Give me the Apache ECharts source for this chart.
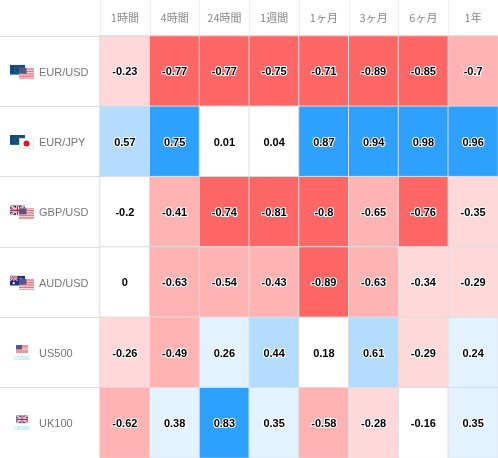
<!DOCTYPE html>
<html><head><meta charset="utf-8">
<style>html,body{margin:0;padding:0;background:#fff}#c{width:498px;height:458px}</style>
<script src="https://cdn.jsdelivr.net/npm/echarts@6/dist/echarts.min.js"></script>
</head><body><div id="c"></div>
<script>
const periods = ['1時間','4時間','24時間','1週間','1ヶ月','3ヶ月','6ヶ月','1年'];
const instruments = ['EUR/USD','EUR/JPY','GBP/USD','AUD/USD','US500','UK100'];
const eurUsd = [-0.23,-0.77,-0.77,-0.75,-0.71,-0.89,-0.85,-0.7];
const eurJpy = [0.57,0.75,0.01,0.04,0.87,0.94,0.98,0.96];
const gbpUsd = [-0.2,-0.41,-0.74,-0.81,-0.8,-0.65,-0.76,-0.35];
const audUsd = [0,-0.63,-0.54,-0.43,-0.89,-0.63,-0.34,-0.29];
const us500 = [-0.26,-0.49,0.26,0.44,0.18,0.61,-0.29,0.24];
const uk100 = [-0.62,0.38,0.83,0.35,-0.58,-0.28,-0.16,0.35];
const rows = [eurUsd,eurJpy,gbpUsd,audUsd,us500,uk100];

const svg = s => 'data:image/svg+xml;charset=utf-8,' + encodeURIComponent(s);
const wrap = (w,h,b) => `<svg xmlns="http://www.w3.org/2000/svg" width="${w}" height="${h}" viewBox="0 0 ${w} ${h}">${b}</svg>`;
const usStripes = [0,3.4,6.8,10.2,13.6,17,20.4].map(y=>`<rect y="${y}" width="30" height="1.7" fill="#e0606a"/>`).join('');
const US = svg(wrap(30,22,`<rect width="30" height="22" fill="#fbeaea"/>${usStripes}<rect width="15" height="12" fill="#55558a"/>`));
const EU = svg(wrap(30,20,`<rect width="30" height="20" fill="#0f4e7e"/><circle cx="15" cy="10" r="5.5" fill="none" stroke="#6f8f3c" stroke-width="1.4" stroke-dasharray="1.4 1.6"/><rect y="19" width="30" height="1" fill="#3f88a8"/>`));
const JP = svg(wrap(30,22,`<rect x=".5" y=".5" width="29" height="21" fill="#fff" stroke="#d8d8d8"/><circle cx="15" cy="11" r="6" fill="#e8101c"/>`));
const UKb = `<rect width="30" height="20" fill="#2b3a78"/><path d="M0 0L30 20M30 0L0 20" stroke="#fff" stroke-width="4"/><path d="M0 0L30 20M30 0L0 20" stroke="#d8405a" stroke-width="1.4"/><path d="M15 0V20M0 10H30" stroke="#fff" stroke-width="6"/><path d="M15 0V20M0 10H30" stroke="#d8203a" stroke-width="3"/>`;
const UK = svg(wrap(30,20,UKb));
const AU = svg(wrap(30,20,`<rect width="30" height="20" fill="#1c2f86"/><g transform="scale(.5)">${UKb}</g><circle cx="7.5" cy="15" r="2.2" fill="#fff"/><circle cx="22" cy="5" r="1.2" fill="#fff"/><circle cx="25" cy="10" r="1.2" fill="#fff"/><circle cx="21" cy="14" r="1.2" fill="#fff"/>`));
const pairFlags = [[EU,US],[EU,JP],[UK,US],[AU,US]];
const indexFlags = {4:[US,'US500'],5:[UK,'UK100']};

const cells = [];
rows.forEach((r,y)=>r.forEach((v,x)=>cells.push([x,y,v])));

const chart = echarts.init(document.getElementById('c'),null,{renderer:'canvas'});
const font = '"Liberation Sans",Arial,sans-serif';
chart.setOption({
  animation:false,
  backgroundColor:'#fff',
  grid:{left:100,top:36,right:0,bottom:0},
  xAxis:{type:'category',position:'top',data:periods,
    axisLine:{show:false},
    axisTick:{show:true,length:36,lineStyle:{color:'#eeeeee',width:1}},
    axisLabel:{interval:0,margin:13,color:'#888888',fontSize:11,fontFamily:'"Noto Sans CJK JP",'+font},
    splitLine:{show:false}},
  yAxis:{type:'category',inverse:true,data:instruments,
    axisLine:{show:true,lineStyle:{color:'#eeeeee',width:1}},
    axisTick:{show:true,length:100,lineStyle:{color:'#dddddd',width:1}},
    axisLabel:{interval:0,margin:61,align:'left',fontFamily:font,
      formatter:v=>`{a|${v}}`,
      rich:{a:{color:'#777777',fontSize:11,fontFamily:font,padding:[3,0,0,0]}}},
    splitLine:{show:false}},
  visualMap:{type:'piecewise',show:false,dimension:2,seriesIndex:0,pieces:[
    {lt:-0.7,color:'#ff6666'},
    {gte:-0.7,lt:-0.4,color:'#ffb3b3'},
    {gte:-0.4,lt:-0.2,color:'#ffd9d9'},
    {gte:-0.2,lte:0.2,color:'#ffffff'},
    {gt:0.2,lte:0.4,color:'#e3f2ff'},
    {gt:0.4,lte:0.7,color:'#b3dcff'},
    {gt:0.7,color:'#2ea1ff'}]},
  series:[{type:'heatmap',data:cells,
    itemStyle:{borderColor:'#dcdcdc',borderWidth:1},
    emphasis:{disabled:true},
    label:{show:true,offset:[0,1],formatter:p=>String(p.value[2]),color:'#000',fontSize:11,fontWeight:'bold',fontFamily:font,
      textBorderColor:'#fff',textBorderWidth:2}}]
});

const gfx = [];
instruments.forEach((name,i)=>{
  const cy = chart.convertToPixel({yAxisIndex:0},name) + 0.5;
  if(pairFlags[i]){
    gfx.push({type:'image',style:{image:pairFlags[i][0],x:10,y:cy-7,width:15,height:10}});
    gfx.push({type:'image',style:{image:pairFlags[i][1],x:19,y:cy-4,width:15,height:11}});
  } else {
    const f = indexFlags[i];
    gfx.push({type:'image',style:{image:f[0],x:16,y:cy-8,width:12,height:8}});
    gfx.push({type:'text',style:{text:f[1],x:22,y:cy+5.5,align:'center',verticalAlign:'middle',fontSize:5,fill:'#8fdcf5',fontFamily:font}});
  }
});
chart.setOption({graphic:gfx});
</script></body></html>
